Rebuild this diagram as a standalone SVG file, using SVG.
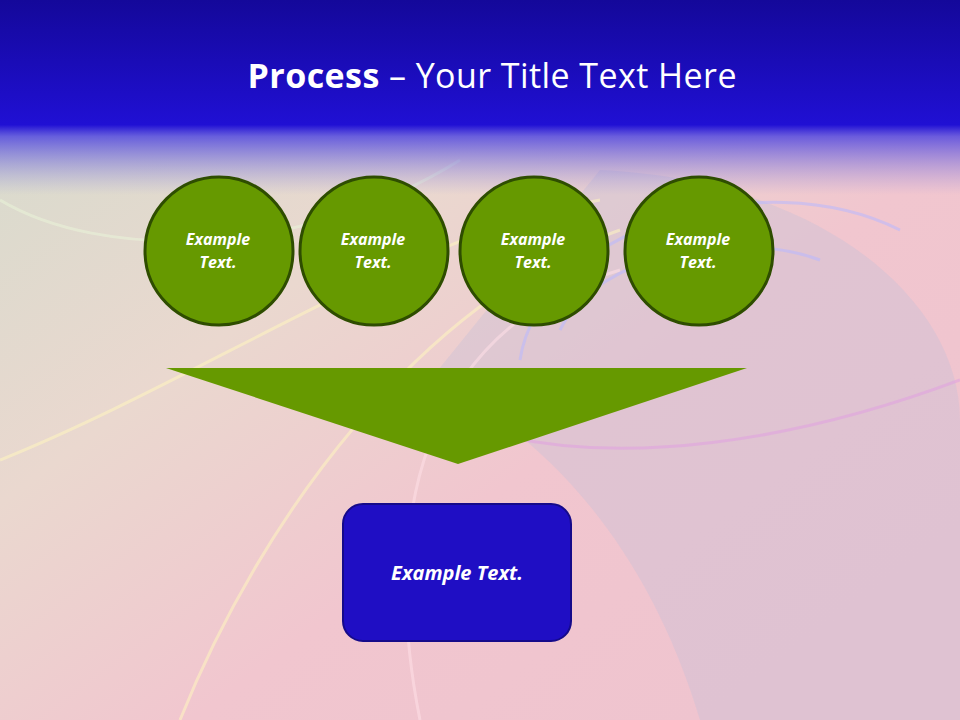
<svg xmlns="http://www.w3.org/2000/svg" width="960" height="720" viewBox="0 0 960 720">
<defs>
<linearGradient id="bg" x1="0" y1="0" x2="1" y2="1">
<stop offset="0" stop-color="#d2dccc"/><stop offset="0.35" stop-color="#ead8cf"/><stop offset="0.6" stop-color="#f1c6cf"/><stop offset="1" stop-color="#eec3cf"/>
</linearGradient>
<linearGradient id="top" x1="0" y1="0" x2="0" y2="1">
<stop offset="0" stop-color="#14089a"/><stop offset="0.64" stop-color="#2010d4"/><stop offset="0.7" stop-color="#4a40e0" stop-opacity="0.8"/><stop offset="1" stop-color="#8a88e0" stop-opacity="0"/>
</linearGradient>
<style>
.c{fill:#669900;stroke:#2e4d00;stroke-width:3}
.t{font-family:"Open Sans","Liberation Sans",sans-serif;font-style:italic;font-weight:bold;fill:#fff;text-anchor:middle}
.sw{fill:none;stroke-width:3;opacity:0.55}
</style>
</defs>
<rect width="960" height="720" fill="url(#bg)"/>
<path d="M600 170 C820 180 960 300 960 420 L960 720 L700 720 C640 520 520 420 430 380 Z" fill="#c9c0d6" opacity="0.4"/>
<path class="sw" stroke="#fff6c0" d="M0 460 C200 380 420 230 600 200"/>
<path class="sw" stroke="#fff6c0" d="M180 720 C260 520 420 300 620 230"/>
<path class="sw" stroke="#ffe0e8" d="M420 720 C380 520 420 330 620 270"/>
<path class="sw" stroke="#b8b8ff" d="M520 360 C540 230 760 160 900 230"/>
<path class="sw" stroke="#b8b8ff" d="M560 330 C600 250 740 230 820 260"/>
<path class="sw" stroke="#e0a0e0" d="M960 380 C800 440 620 470 480 430"/>
<path class="sw" stroke="#eaf4d8" d="M0 200 C100 260 300 260 460 160"/>
<rect width="960" height="195" fill="url(#top)"/>
<text x="492" y="88" font-family="'Open Sans','Liberation Sans',sans-serif" font-size="34" fill="#fff" text-anchor="middle" textLength="489"><tspan font-weight="bold">Process</tspan> – Your Title Text Here</text>
<g id="n1"><circle class="c" cx="219" cy="251" r="74"/><text class="t" x="218" y="245" font-size="16">Example</text><text class="t" x="218" y="268" font-size="16">Text.</text></g>
<g id="n2"><circle class="c" cx="374" cy="251" r="74"/><text class="t" x="373" y="245" font-size="16">Example</text><text class="t" x="373" y="268" font-size="16">Text.</text></g>
<g id="n3"><circle class="c" cx="534" cy="251" r="74"/><text class="t" x="533" y="245" font-size="16">Example</text><text class="t" x="533" y="268" font-size="16">Text.</text></g>
<g id="n4"><circle class="c" cx="699" cy="251" r="74"/><text class="t" x="698" y="245" font-size="16">Example</text><text class="t" x="698" y="268" font-size="16">Text.</text></g>
<g id="connectors"><polygon points="166,368 747,368 458,464" fill="#669900"/></g>
<g id="out"><rect x="343" y="504" width="228" height="137" rx="20" fill="#1f0ec4" stroke="#150a8a" stroke-width="2"/><text class="t" x="457" y="580" font-size="20">Example Text.</text></g>
</svg>
